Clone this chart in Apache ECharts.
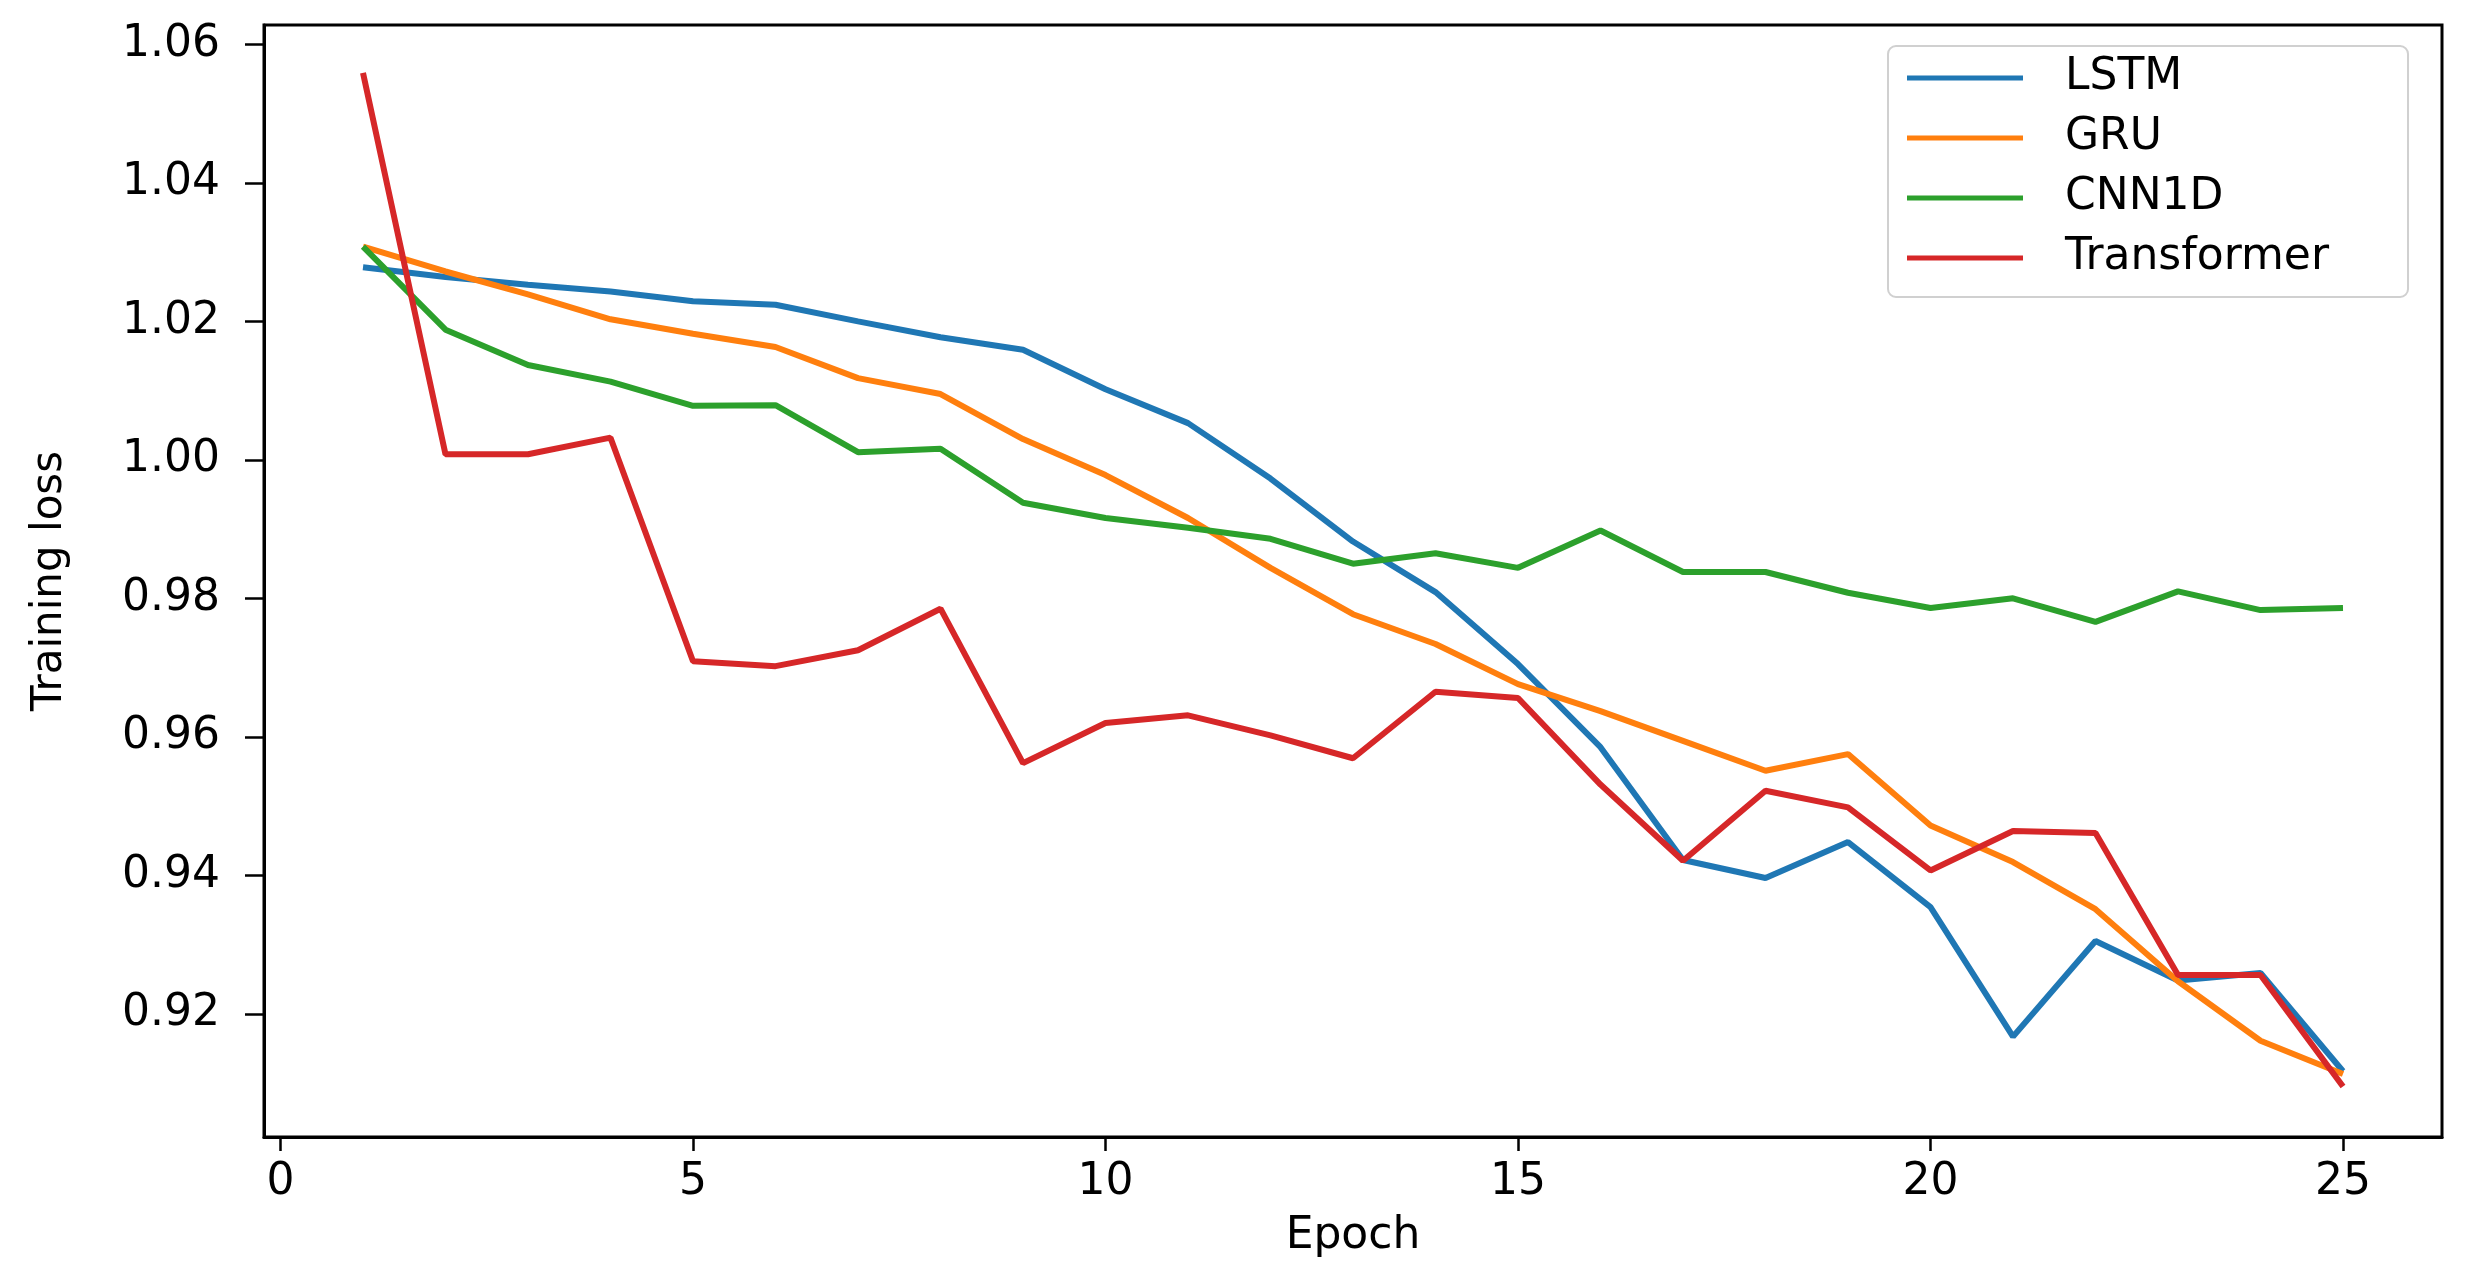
<!DOCTYPE html>
<html>
<head>
<meta charset="utf-8">
<script src="https://cdn.jsdelivr.net/npm/echarts@6/dist/echarts.min.js"></script>
<style>
html,body{margin:0;padding:0;background:#fff;}
#chart{width:2466px;height:1280px;}
</style>
</head>
<body>
<div id="chart"></div>
<script>
const epochs = [1,2,3,4,5,6,7,8,9,10,11,12,13,14,15,16,17,18,19,20,21,22,23,24,25];
const lstm = [1.0278,1.0264,1.0253,1.0243,1.0229,1.0224,1.0200,1.0177,1.0159,1.0102,1.0053,0.9973,0.9882,0.9809,0.9705,0.9585,0.9422,0.9396,0.9448,0.9354,0.9167,0.9305,0.9248,0.9259,0.9117];
const gru = [1.0308,1.0272,1.0239,1.0203,1.0182,1.0163,1.0118,1.0095,1.0030,0.9978,0.9916,0.9844,0.9777,0.9734,0.9676,0.9637,0.9594,0.9551,0.9575,0.9472,0.9419,0.9351,0.9247,0.9161,0.9113];
const cnn1d = [1.0308,1.0188,1.0137,1.0113,1.0078,1.0079,1.0011,1.0016,0.9938,0.9916,0.9902,0.9886,0.9850,0.9865,0.9844,0.9898,0.9838,0.9838,0.9808,0.9786,0.9800,0.9766,0.9810,0.9783,0.9786];
const transformer = [1.0559,1.0008,1.0008,1.0032,0.9709,0.9702,0.9725,0.9785,0.9562,0.9620,0.9631,0.9602,0.9569,0.9665,0.9656,0.9531,0.9421,0.9522,0.9498,0.9407,0.9464,0.9461,0.9256,0.9256,0.9095];
const seriesNames = ['LSTM','GRU','CNN1D','Transformer'];
const xTicks = [0,5,10,15,20,25];
const yTicks = [0.92,0.94,0.96,0.98,1.00,1.02,1.04,1.06];

const colors = ['#1f77b4','#ff7f0e','#2ca02c','#d62728'];
const allData = [lstm, gru, cnn1d, transformer];
const FONT = 'DejaVu Sans';
const FS = 44;

const chart = echarts.init(document.getElementById('chart'));
chart.setOption({
  animation: false,
  backgroundColor: '#ffffff',
  grid: {left: 264, right: 24, top: 25, bottom: 143, show: true, borderColor: '#000', borderWidth: 3, containLabel: false},
  legend: {
    orient: 'vertical',
    left: 1888, top: 46,
    data: seriesNames,
    icon: 'rect',
    itemWidth: 116, itemHeight: 5,
    itemGap: 12,
    padding: [8, 79, 15, 19],
    backgroundColor: '#ffffff',
    borderColor: '#d0d0d0', borderWidth: 2, borderRadius: 8,
    textStyle: {fontFamily: FONT, fontSize: FS, color: '#000', lineHeight: 48, padding: [0,0,0,37]}
  },
  xAxis: {
    type: 'value', min: -0.2, max: 26.2,
    name: 'Epoch', nameLocation: 'middle', nameGap: 78,
    nameTextStyle: {fontFamily: FONT, fontSize: FS, color: '#000'},
    splitLine: {show: false},
    axisLine: {show: true, onZero: false, lineStyle: {color: '#000', width: 3}},
    axisTick: {show: true, length: 14, lineStyle: {color: '#000', width: 2.5}, customValues: xTicks},
    axisLabel: {fontFamily: FONT, fontSize: FS, color: '#000', margin: 24, customValues: xTicks, formatter: v => String(v)}
  },
  yAxis: {
    type: 'value', min: 0.9022, max: 1.0628,
    name: 'Training loss', nameLocation: 'middle', nameGap: 193, nameRotate: 90,
    nameTextStyle: {fontFamily: FONT, fontSize: 42, color: '#000'},
    splitLine: {show: false},
    axisLine: {show: true, onZero: false, lineStyle: {color: '#000', width: 3}},
    axisTick: {show: true, length: 19, lineStyle: {color: '#000', width: 2.5}, customValues: yTicks},
    axisLabel: {fontFamily: FONT, fontSize: FS, color: '#000', margin: 44, customValues: yTicks, formatter: v => v.toFixed(2)}
  },
  series: seriesNames.map((n, i) => ({
    name: n, type: 'line', showSymbol: false, symbol: 'none',
    color: colors[i],
    lineStyle: {color: colors[i], width: 6},
    data: epochs.map((e, k) => [e, allData[i][k]])
  }))
});
</script>
</body>
</html>
